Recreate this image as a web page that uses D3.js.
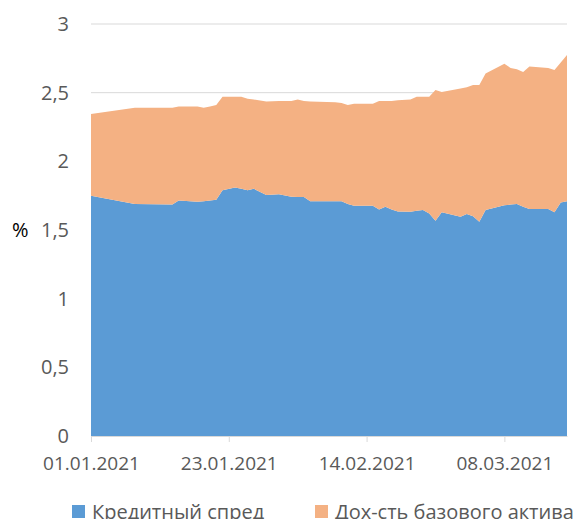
<!DOCTYPE html>
<html>
<head>
<meta charset="utf-8">
<script src="https://cdn.jsdelivr.net/npm/d3@7"></script>
<style>
  body { margin: 0; background: #fff; overflow: hidden; }
  svg text { font-family: "Open Sans", sans-serif; }
</style>
</head>
<body>
<svg id="chart" width="574" height="519"></svg>
<script>
// dates and values
var dates = ["2021-01-01", "2021-01-08", "2021-01-14", "2021-01-15", "2021-01-18", "2021-01-19",
    "2021-01-20", "2021-01-21", "2021-01-22", "2021-01-24", "2021-01-25", "2021-01-26",
    "2021-01-27", "2021-01-29", "2021-01-31", "2021-02-02", "2021-02-03", "2021-02-04",
    "2021-02-05", "2021-02-09", "2021-02-10", "2021-02-11", "2021-02-12", "2021-02-15",
    "2021-02-16", "2021-02-17", "2021-02-18", "2021-02-19", "2021-02-21", "2021-02-22",
    "2021-02-23", "2021-02-24", "2021-02-25", "2021-02-26", "2021-03-01", "2021-03-02",
    "2021-03-03", "2021-03-04", "2021-03-05", "2021-03-08", "2021-03-09", "2021-03-10",
    "2021-03-11", "2021-03-12", "2021-03-15", "2021-03-16", "2021-03-17", "2021-03-18"];

var spread = [1.75, 1.69, 1.685, 1.714, 1.706, 1.71, 1.715, 1.72, 1.79, 1.81, 1.80, 1.79,
    1.80, 1.755, 1.76, 1.743, 1.74, 1.74, 1.71, 1.71, 1.71, 1.69, 1.677, 1.677,
    1.65, 1.67, 1.65, 1.635, 1.633, 1.64, 1.646, 1.62, 1.568, 1.63, 1.597, 1.617,
    1.60, 1.56, 1.646, 1.68, 1.685, 1.69, 1.67, 1.653, 1.653, 1.63, 1.70, 1.71];

var baseYield = [0.595, 0.70, 0.705, 0.686, 0.694, 0.68, 0.685, 0.69, 0.68, 0.66, 0.67, 0.665,
    0.65, 0.68, 0.68, 0.697, 0.71, 0.70, 0.725, 0.72, 0.715, 0.72, 0.743, 0.743,
    0.79, 0.77, 0.79, 0.81, 0.817, 0.83, 0.824, 0.85, 0.952, 0.875, 0.933, 0.923,
    0.956, 0.995, 0.994, 1.03, 0.995, 0.98, 0.98, 1.037, 1.027, 1.035, 1.02, 1.065];

var seriesNames = ["Кредитный спред", "Дох-сть базового актива"];
var colors = ["#5B9BD5", "#F4B183"];
var yTicks = [0, 0.5, 1, 1.5, 2, 2.5, 3];
var xTickDates = ["2021-01-01", "2021-01-23", "2021-02-14", "2021-03-08"];

var parse = d3.timeParse("%Y-%m-%d");
var rows = dates.map(function (d, i) {
    return { date: parse(d), spread: spread[i], base: baseYield[i] };
});

var svg = d3.select("#chart");

var margin = { top: 24, right: 7, bottom: 83, left: 91 },
    width = 574 - margin.left - margin.right,
    height = 519 - margin.top - margin.bottom;

var g = svg.append("g")
    .attr("transform", "translate(" + margin.left + "," + margin.top + ")");

var xScale = d3.scaleTime()
    .domain(d3.extent(rows, function (d) { return d.date; }))
    .range([0, width]);

var yScale = d3.scaleLinear()
    .domain([0, 3])
    .range([height, 0]);

// gridlines
g.append("g")
    .selectAll("line")
    .data(yTicks.slice(1))
    .enter().append("line")
    .attr("x1", 0)
    .attr("x2", width)
    .attr("y1", function (d) { return yScale(d); })
    .attr("y2", function (d) { return yScale(d); })
    .style("stroke", "#d9d9d9")
    .style("stroke-width", 1);

// stacked areas
var stack = d3.stack().keys(["spread", "base"]);
var layers = stack(rows);

var area = d3.area()
    .x(function (d) { return xScale(d.data.date); })
    .y0(function (d) { return yScale(d[0]); })
    .y1(function (d) { return yScale(d[1]); });

g.selectAll(".layer")
    .data(layers)
    .enter().append("path")
    .attr("class", "layer")
    .attr("d", area)
    .style("fill", function (d, i) { return colors[i]; });

// x axis
var xAxis = d3.axisBottom(xScale)
    .tickValues(xTickDates.map(parse))
    .tickFormat(d3.timeFormat("%d.%m.%Y"))
    .tickSizeInner(6)
    .tickSizeOuter(0)
    .tickPadding(15);

var xg = g.append("g")
    .attr("class", "x axis")
    .attr("transform", "translate(0," + height + ")")
    .call(xAxis);
xg.select(".domain").style("stroke", "#d9d9d9");
xg.selectAll(".tick line").style("stroke", "#d9d9d9");
xg.selectAll(".tick text")
    .style("font-size", "19px")
    .style("fill", "#595959");

// y axis (labels only)
var yAxis = d3.axisLeft(yScale)
    .tickValues(yTicks)
    .tickFormat(function (d) { return String(d).replace(".", ","); })
    .tickSize(0)
    .tickPadding(22);

var yg = g.append("g")
    .attr("class", "y axis")
    .call(yAxis);
yg.select(".domain").remove();
yg.selectAll(".tick text")
    .style("font-size", "20px")
    .style("fill", "#595959");

// axis title
svg.append("text")
    .attr("x", 12)
    .attr("y", yScale(1.5) + margin.top)
    .attr("dy", "0.35em")
    .style("font-size", "20px")
    .style("fill", "#000")
    .text("%");

// legend
var legend = svg.append("g")
    .attr("transform", "translate(0,519)");

var legendX = [72, 315];
seriesNames.forEach(function (name, i) {
    legend.append("rect")
        .attr("x", legendX[i])
        .attr("y", -14)
        .attr("width", 13)
        .attr("height", 13)
        .style("fill", colors[i]);
    legend.append("text")
        .attr("x", legendX[i] + 20)
        .attr("y", 0)
        .style("font-size", "20px")
        .style("fill", "#595959")
        .text(name);
});
</script>
</body>
</html>
